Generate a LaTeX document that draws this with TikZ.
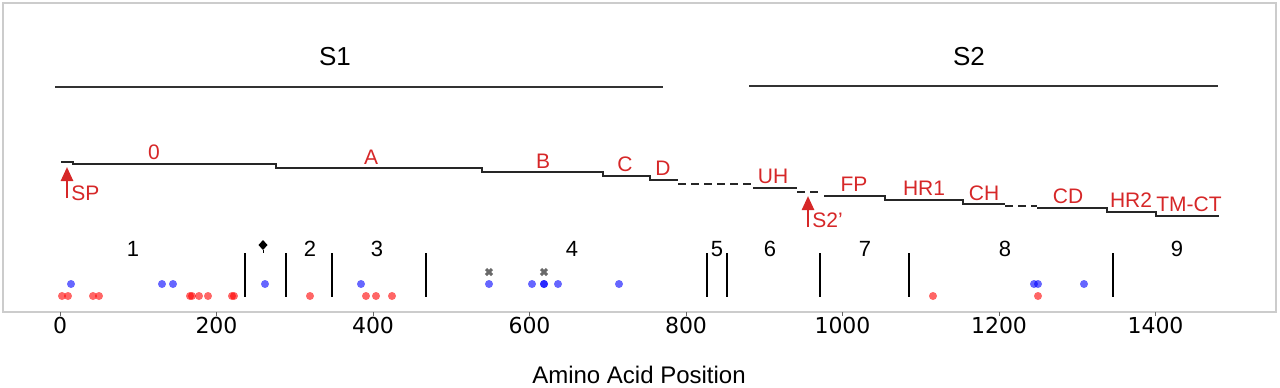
\documentclass[tikz,border=0pt]{standalone}
\usepackage{fontspec}
\setmainfont{Liberation Sans}
\newfontfamily\tickfont{DejaVu Sans}
\usepackage{xcolor}
\usetikzlibrary{arrows.meta, positioning}

\definecolor{lblred}{RGB}{214,39,40}
\definecolor{framegray}{RGB}{204,204,204}
\definecolor{xgray}{RGB}{105,105,105}

\begin{document}
\begin{tikzpicture}[x=0.5pt, y=-0.5pt,
    domline/.style={line width=1.25pt, black!85},
    domdash/.style={domline, dash pattern=on 4pt off 2.5pt},
    domlbl/.style={font=\fontsize{10.5}{12}\selectfont, text=lblred, anchor=base, inner sep=0pt},
    regnum/.style={font=\fontsize{11}{13}\selectfont, anchor=base, inner sep=0pt},
    sepline/.style={line width=1.25pt, black},
    reddot/.style={fill=red, fill opacity=0.6},
    bluedot/.style={fill=blue, fill opacity=0.6},
    cleave/.style={-{Triangle[width=6pt,length=7pt]}, line width=1.25pt, lblred}]
    \useasboundingbox (0,0) rectangle (1280,387);

    % Plot frame
    \draw[framegray, line width=0.75pt] (3,3) rectangle (1276,312);

    % Subunits
    \draw[line width=1pt, black!80] (55,87) -- (663,87);
    \draw[line width=1pt, black!80] (749,86) -- (1218,86);
    \node[font=\fontsize{13}{15}\selectfont, anchor=base, inner sep=0pt] (s1) at (335,65) {S1};
    \node[font=\fontsize{13}{15}\selectfont, anchor=base, inner sep=0pt] (s2) at (969,65) {S2};

    % Domain staircase
    \draw[domline] (61,162) -- (73,162) -- (73,164) -- (276,164) -- (276,168) -- (482,168)
        -- (482,172) -- (603,172) -- (603,176) -- (650,176) -- (650,180) -- (678,180);
    \draw[domdash] (678,184) -- (753,184);
    \draw[domline] (753,188) -- (797,188);
    \draw[domdash] (797,192) -- (820,192);
    \draw[domline] (824,196) -- (885,196) -- (885,200) -- (963,200) -- (963,204) -- (1005,204);
    \draw[domdash] (1005,206) -- (1037,206);
    \draw[domline] (1037,208) -- (1107,208) -- (1107,212) -- (1156,212) -- (1156,216) -- (1219,216);

    % Domain labels
    \node[domlbl] (d0) at (154,159) {0};
    \node[domlbl] (dA) at (371,164) {A};
    \node[domlbl] (dB) at (543,168) {B};
    \node[domlbl] (dC) at (625,171) {C};
    \node[domlbl] (dD) at (663,175) {D};
    \node[domlbl] (dUH) at (773,183) {UH};
    \node[domlbl] (dFP) at (854,191) {FP};
    \node[domlbl] (dHR1) at (924,195) {HR1};
    \node[domlbl] (dCH) at (984,200) {CH};
    \node[domlbl] (dCD) at (1068,203) {CD};
    \node[domlbl] (dHR2) at (1131,207) {HR2};
    \node[domlbl] (dTM) at (1189,211) {TM-CT};

    % Cleavage sites
    \coordinate (sptip) at (67,167);
    \coordinate (spbase) at (67,198);
    \draw[cleave] (spbase) -- (sptip);
    \node[domlbl, anchor=base west] (sp) at (71,200) {SP};
    \coordinate (s2tip) at (808,196);
    \coordinate (s2base) at (808,227);
    \draw[cleave] (s2base) -- (s2tip);
    \node[domlbl, anchor=base west] (s2p) at (812,227) {S2'};

    % Region numbers
    \foreach \n/\x in {1/133, 2/310, 3/377, 4/572, 5/717, 6/770, 7/865, 8/1005, 9/1177}
        \node[regnum] (r\n) at (\x,256) {\n};

    % Region separators
    \foreach \x in {245, 286, 332, 426, 707, 727, 820, 909, 1113}
        \draw[sepline] (\x,253) -- (\x,297);

    % Markers
    \fill (263,240) -- (267.5,245) -- (263,250) -- (258.5,245) -- cycle;
    \draw[line width=0.5pt] (263,250) -- (263,253);
    \foreach \x in {489, 544}
        \draw[xgray, line width=1.5pt] (\x-3,269) -- (\x+3,275) (\x-3,275) -- (\x+3,269);

    % Mutation dots
    \foreach \x in {71, 162, 173, 265, 361, 489, 532, 544, 544, 558, 619, 1034, 1038, 1084}
        \fill[bluedot] (\x,284) circle[radius=2pt];
    \foreach \x in {62, 68, 93, 99, 190, 192, 199, 208, 232, 234, 310, 366, 376, 392, 933, 1038}
        \fill[reddot] (\x,296) circle[radius=2pt];

    % Position axis
    \foreach \k in {0,200,...,1400} {
        \draw[black!60, line width=0.5pt] ({60+0.7825*\k},312) -- ({60+0.7825*\k},316);
        \node[font=\tickfont\fontsize{11}{13}\selectfont, anchor=base, inner sep=0pt] (t\k) at ({60+0.7825*\k},333) {\k};
    }
    \node[font=\fontsize{12}{14}\selectfont, anchor=base, inner sep=0pt] (xlab) at (639,383) {Amino Acid Position};
\end{tikzpicture}
\end{document}
